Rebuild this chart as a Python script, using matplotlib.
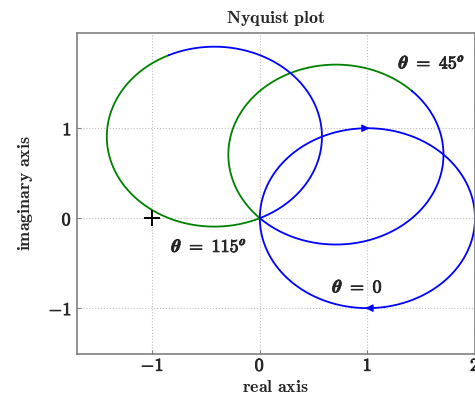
import numpy as np
import matplotlib
matplotlib.use('Agg')
import matplotlib.pyplot as plt
import matplotlib.patheffects as pe
from matplotlib.mathtext import MathTextParser

# Loop gain L(s) = K/(1+s/p), rotated by exp(j*theta)
gain = 2.0
pole = 1.0
thetas_deg = [0, 45, 115]
theta_text = ['0', '45', '115']
theta_sup = [False, True, True]
crit_point = (-1, 0)

xticks = [-1, 0, 1, 2]
yticks = [-1, 0, 1]

plt.rcParams['mathtext.fontset'] = 'cm'

# bold theta if this mathtext knows \boldsymbol
try:
    MathTextParser('agg').parse(r'$\boldsymbol{\theta}\boldsymbol{o}$', 72)
    th = r'\boldsymbol{\theta}'
    deg = r'^{\boldsymbol{o}}'
except Exception:
    th = r'\theta'
    deg = r'^{o}'


def btext(s):
    return r'$\mathbf{' + s.replace(' ', r'\ ') + '}$'


txt_col = '#262626'
thick = [pe.withStroke(linewidth=0.6, foreground=txt_col)]

fig = plt.figure(figsize=(4.75, 3.96), dpi=100)
ax = fig.add_axes([0.162, 0.106, 0.838, 0.811])

w = np.tan(np.linspace(-np.pi / 2, np.pi / 2, 4001)[1:-1])
for th_deg in thetas_deg:
    G = gain / (1 + 1j * w / pole) * np.exp(1j * np.deg2rad(th_deg))
    if th_deg == 0:
        ax.plot(G.real, G.imag, color='b', lw=1.3)
        # direction arrows at w = -1 and w = +1
        for wa in (-1.0, 1.0):
            p0 = gain / (1 + 1j * (wa - 0.02) / pole)
            p1 = gain / (1 + 1j * (wa + 0.02) / pole)
            ax.annotate('', xy=(p1.real, p1.imag), xytext=(p0.real, p0.imag),
                        arrowprops=dict(arrowstyle='-|>', color='b', lw=1.0,
                                        mutation_scale=11, shrinkA=0, shrinkB=0))
    else:
        neg = w < 0
        ax.plot(G.real[neg], G.imag[neg], color='g', lw=1.3)
        ax.plot(G.real[~neg], G.imag[~neg], color='b', lw=1.3)

ax.plot(crit_point[0], crit_point[1], '+', color='k', ms=11, mew=1.4)

fs = 13
for i, (x, y) in enumerate([(0.91, -0.77), (1.6, 1.72), (-0.47, -0.32)]):
    s = '$' + th + r'\mathbf{\ =\ ' + theta_text[i] + '}' + (deg if theta_sup[i] else '') + '$'
    ax.text(x, y, s, fontsize=fs, ha='center', va='center', color=txt_col,
            path_effects=thick)

ax.set_xlim(-1.7, 2.0)
ax.set_ylim(-1.51, 2.06)
ax.set_xticks(xticks)
ax.set_yticks(yticks)
ax.set_xticklabels([btext(str(v)) for v in xticks], fontsize=fs, color=txt_col)
ax.set_yticklabels([btext(str(v)) for v in yticks], fontsize=fs, color=txt_col)
for lab in ax.get_xticklabels() + ax.get_yticklabels():
    lab.set_path_effects(thick)
ax.tick_params(direction='in', length=3, color='#808080')
ax.tick_params(axis='x', pad=2)
ax.tick_params(axis='y', pad=3.6)
ax.grid(True, linestyle=':', color='#c0c0c0', lw=0.8)

for side in ['left', 'bottom', 'top', 'right']:
    ax.spines[side].set_color('#808080')
    ax.spines[side].set_linewidth(1.2)

ax.set_title(btext('Nyquist plot'), fontsize=fs, pad=7, color=txt_col)
ax.set_xlabel(btext('real axis'), fontsize=fs, labelpad=2, color=txt_col)
ax.set_ylabel(btext('imaginary axis'), fontsize=fs, labelpad=10, color=txt_col)

fig.savefig('out.png', dpi=100)
